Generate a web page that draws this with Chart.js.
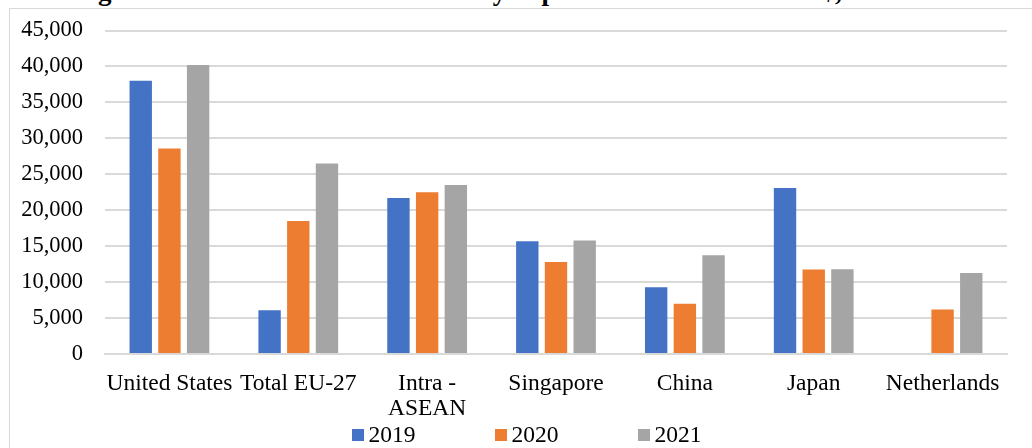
<!DOCTYPE html>
<html>
<head>
<meta charset="utf-8">
<script src="https://cdn.jsdelivr.net/npm/chart.js@4"></script>
<style>
    body { margin: 0; width: 1032px; height: 448px; overflow: hidden; background: #fff; position: relative; }
    #title {
        position: absolute; left: 0; width: 1044px; top: -22px; white-space: nowrap;
        text-align: center; font: bold 27px/27px "Liberation Serif", "Times New Roman", serif; color: #000;
    }
    #frame {
        position: absolute; left: 9px; top: 8px; width: 1100px; height: 500px;
        border: 1px solid #d9d9d9;
    }
    #wrap { position: absolute; left: 10px; top: -5px; width: 1022px; height: 453px; }
    #legend {
        position: absolute; left: 0; width: 1053px; top: 422px;
        display: flex; justify-content: center; gap: 79px;
        font: 23.5px/24px "Liberation Serif", "Times New Roman", serif; color: #000;
    }
    #legend .item { display: flex; align-items: flex-start; }
    #legend .box { width: 12px; height: 12px; margin-top: 7px; margin-right: 5px; }
</style>
</head>
<body>
<div id="title">Figure 1.1: FDI Inflows to ASEAN by Top Sources in millions US$, 2019–2021</div>
<div id="frame"></div>
<div id="wrap"><canvas id="fdiChart"></canvas></div>
<div id="legend"></div>

<script>
// FDI inflows to ASEAN, millions US$
const categories = ["United States", "Total EU-27", ["Intra -", "ASEAN"], "Singapore", "China", "Japan", "Netherlands"];
const years = ["2019", "2020", "2021"];
const values2019 = [38000, 6100, 21700, 15700, 9300, 23100, null];
const values2020 = [28600, 18500, 22500, 12800, 7000, 11750, 6200];
const values2021 = [40200, 26500, 23500, 15800, 13750, 11800, 11250];
const yMax = 45000;
const yStep = 5000;

const colors = ["#4472C4", "#ED7D31", "#A5A5A5"];
const serif = "'Liberation Serif', 'Times New Roman', serif";

// legend (html, spacing like the original)
const legendBox = document.getElementById("legend");
years.forEach(function (y, i) {
    const item = document.createElement("div");
    item.className = "item";
    item.innerHTML = '<span class="box" style="background:' + colors[i] + '"></span><span>' + y + '</span>';
    legendBox.appendChild(item);
});

// chart
const ctx = document.getElementById("fdiChart");
new Chart(ctx, {
    type: "bar",
    data: {
        labels: categories,
        datasets: [values2019, values2020, values2021].map(function (vals, i) {
            return {
                label: years[i],
                data: vals,
                backgroundColor: colors[i],
                categoryPercentage: 0.668,
                barPercentage: 0.78
            };
        })
    },
    options: {
        responsive: true,
        maintainAspectRatio: false,
        animation: false,
        layout: { padding: { top: 10, right: 25, left: 0, bottom: 10 } },
        plugins: {
            legend: { display: false },
            tooltip: { enabled: false }
        },
        scales: {
            x: {
                grid: { display: false, drawTicks: false },
                border: { display: true, color: "#d9d9d9", width: 2 },
                ticks: {
                    color: "#000",
                    font: { family: serif, size: 23.5, lineHeight: 1.064 },
                    padding: 17,
                    maxRotation: 0,
                    autoSkip: false
                }
            },
            y: {
                min: 0,
                max: yMax,
                grid: { color: "#d9d9d9", lineWidth: 2, drawTicks: false },
                border: { display: false },
                ticks: {
                    stepSize: yStep,
                    autoSkip: false,
                    color: "#000",
                    font: { family: serif, size: 22.5 },
                    padding: 22,
                    callback: function (value) {
                        return value.toLocaleString("en-US");
                    }
                },
                afterFit: function (scale) {
                    scale.width = 95;
                }
            }
        }
    }
});
</script>
</body>
</html>
